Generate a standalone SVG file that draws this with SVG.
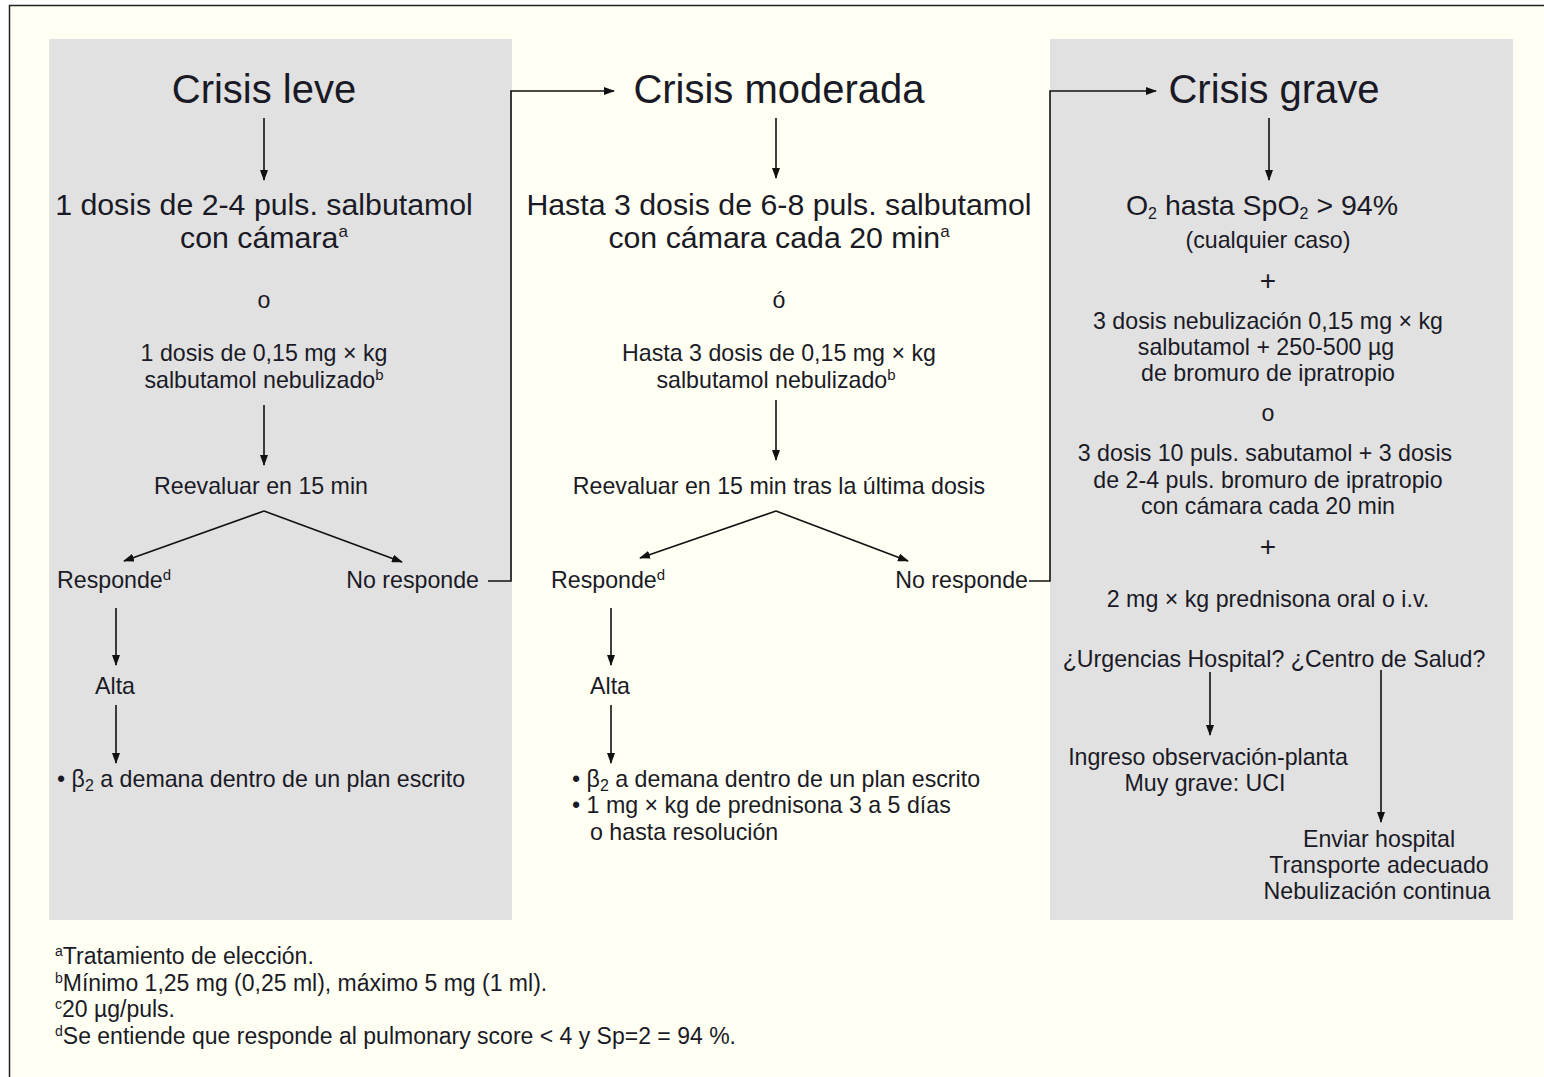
<svg xmlns="http://www.w3.org/2000/svg" width="1544" height="1077" viewBox="0 0 1544 1077">
<defs>
<marker id="ah" markerWidth="11" markerHeight="8" refX="10" refY="4" orient="auto" markerUnits="userSpaceOnUse">
<path d="M0,0 L11,4 L0,8 z" fill="#111"/>
</marker>
<style>
text{font-family:"Liberation Sans",Arial,sans-serif;fill:#1a1a26}
.t{font-size:40px;text-anchor:middle}
.m{font-size:30.3px;text-anchor:middle}
.s{font-size:23.2px;text-anchor:middle}
.p{font-size:28px;text-anchor:middle}
.l{font-size:23.2px}
.f{font-size:23px}
.c line,.c path{stroke:#111;stroke-width:1.6;fill:none}
.a{marker-end:url(#ah)}
</style>
</defs>
<rect x="0" y="0" width="1544" height="1077" fill="#ffffff"/>
<rect x="9.5" y="5.5" width="1600" height="1100" fill="#fffff3" stroke="#222" stroke-width="1.5"/>
<rect x="49" y="39" width="463" height="881" fill="#e1e1e1"/>
<rect x="1050" y="39" width="463" height="881" fill="#e1e1e1"/>

<g class="c" id="connectors">
<line class="a" x1="264" y1="118" x2="264" y2="180"/>
<line class="a" x1="264" y1="405" x2="264" y2="465"/>
<line class="a" x1="264" y1="511" x2="124" y2="561"/>
<line class="a" x1="264" y1="511" x2="402" y2="562"/>
<path class="a" d="M488,581 H511 V91 H614"/>
<line class="a" x1="116" y1="608" x2="116" y2="665"/>
<line class="a" x1="116" y1="705" x2="116" y2="763"/>

<line class="a" x1="776" y1="118" x2="776" y2="178"/>
<line class="a" x1="776" y1="400" x2="776" y2="460"/>
<line class="a" x1="776" y1="511" x2="640" y2="558"/>
<line class="a" x1="776" y1="511" x2="908" y2="561"/>
<path class="a" d="M1029,581 H1050 V91 H1156"/>
<line class="a" x1="611" y1="608" x2="611" y2="665"/>
<line class="a" x1="611" y1="705" x2="611" y2="763"/>

<line class="a" x1="1269" y1="118" x2="1269" y2="180"/>
<line class="a" x1="1210" y1="672" x2="1210" y2="735"/>
<line class="a" x1="1381" y1="670" x2="1381" y2="822"/>
</g>

<g id="leve">
<text class="t" x="264" y="103">Crisis leve</text>
<text class="m" x="264" y="215">1 dosis de 2-4 puls. salbutamol</text>
<text class="m" x="264" y="248">con cámara<tspan font-size="17" dy="-11">a</tspan></text>
<text class="s" x="264" y="308">o</text>
<text class="s" x="264" y="361">1 dosis de 0,15 mg × kg</text>
<text class="s" x="264" y="388">salbutamol nebulizado<tspan font-size="15" dy="-8">b</tspan></text>
<text class="s" x="261" y="494">Reevaluar en 15 min</text>
<text class="l" x="57" y="588">Responde<tspan font-size="15" dy="-8">d</tspan></text>
<text class="l" x="479" y="588" text-anchor="end">No responde</text>
<text class="s" x="115" y="694">Alta</text>
<text class="l" x="57" y="787">• β<tspan font-size="16" dy="4">2</tspan><tspan dy="-4"> a demana dentro de un plan escrito</tspan></text>
</g>

<g id="moderada">
<text class="t" x="779" y="103">Crisis moderada</text>
<text class="m" x="779" y="215">Hasta 3 dosis de 6-8 puls. salbutamol</text>
<text class="m" x="779" y="248">con cámara cada 20 min<tspan font-size="17" dy="-11">a</tspan></text>
<text class="s" x="779" y="308">ó</text>
<text class="s" x="779" y="361">Hasta 3 dosis de 0,15 mg × kg</text>
<text class="s" x="776" y="388">salbutamol nebulizado<tspan font-size="15" dy="-8">b</tspan></text>
<text class="s" x="779" y="494">Reevaluar en 15 min tras la última dosis</text>
<text class="l" x="551" y="588">Responde<tspan font-size="15" dy="-8">d</tspan></text>
<text class="l" x="1028" y="588" text-anchor="end">No responde</text>
<text class="s" x="610" y="694">Alta</text>
<text class="l" x="572" y="787">• β<tspan font-size="16" dy="4">2</tspan><tspan dy="-4"> a demana dentro de un plan escrito</tspan></text>
<text class="l" x="572" y="813">• 1 mg × kg de prednisona 3 a 5 días</text>
<text class="l" x="590" y="840">o hasta resolución</text>
</g>

<g id="grave">
<text class="t" x="1274" y="103">Crisis grave</text>
<text x="1262" y="215" font-size="28.5" text-anchor="middle">O<tspan font-size="16" dy="4">2</tspan><tspan dy="-4"> hasta SpO</tspan><tspan font-size="16" dy="4">2</tspan><tspan dy="-4"> &gt; 94%</tspan></text>
<text class="s" x="1268" y="248">(cualquier caso)</text>
<text class="p" x="1268" y="290">+</text>
<text class="s" x="1268" y="329">3 dosis nebulización 0,15 mg × kg</text>
<text class="s" x="1266" y="355">salbutamol + 250-500 µg</text>
<text class="s" x="1268" y="381">de bromuro de ipratropio</text>
<text class="s" x="1268" y="421">o</text>
<text class="s" x="1265" y="461">3 dosis 10 puls. sabutamol + 3 dosis</text>
<text class="s" x="1268" y="488">de 2-4 puls. bromuro de ipratropio</text>
<text class="s" x="1268" y="514">con cámara cada 20 min</text>
<text class="p" x="1268" y="556">+</text>
<text class="s" x="1268" y="607">2 mg × kg prednisona oral o i.v.</text>
<text class="s" x="1274" y="667">¿Urgencias Hospital? ¿Centro de Salud?</text>
<text class="s" x="1208" y="765">Ingreso observación-planta</text>
<text class="s" x="1205" y="791">Muy grave: UCI</text>
<text class="s" x="1379" y="847">Enviar hospital</text>
<text class="s" x="1379" y="873">Transporte adecuado</text>
<text class="s" x="1377" y="899">Nebulización continua</text>
</g>

<g id="footnotes">
<text class="f" x="55" y="964"><tspan font-size="14" dy="-8">a</tspan><tspan dy="8">Tratamiento de elección.</tspan></text>
<text class="f" x="55" y="991"><tspan font-size="14" dy="-8">b</tspan><tspan dy="8">Mínimo 1,25 mg (0,25 ml), máximo 5 mg (1 ml).</tspan></text>
<text class="f" x="55" y="1017"><tspan font-size="14" dy="-8">c</tspan><tspan dy="8">20 µg/puls.</tspan></text>
<text class="f" x="55" y="1044"><tspan font-size="14" dy="-8">d</tspan><tspan dy="8">Se entiende que responde al pulmonary score &lt; 4 y Sp=2 = 94 %.</tspan></text>
</g>
</svg>
